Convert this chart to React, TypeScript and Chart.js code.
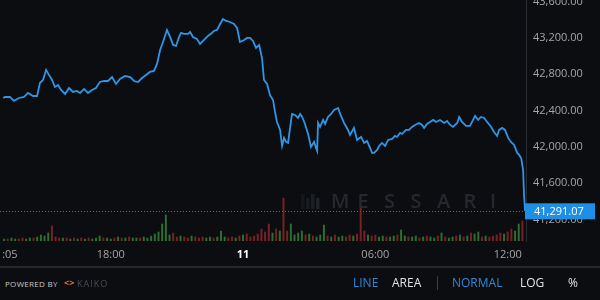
import React, { useEffect, useRef } from 'react';
import { Chart, registerables } from 'chart.js';

Chart.register(...registerables);

// ---- data (hours relative to 00:00 on the 11th) ----
const lineTimes = [
  -10.88, -10.79, -10.57, -10.39, -10.16, -9.93, -9.75, -9.52, -9.34, -9.21,
  -9.07, -8.93, -8.8, -8.66, -8.53, -8.39, -8.25, -8.07, -7.89, -7.71,
  -7.53, -7.39, -7.21, -7.03, -6.85, -6.67, -6.49, -6.3, -6.12, -5.94,
  -5.76, -5.58, -5.35, -5.12, -4.94, -4.76, -4.58, -4.4, -4.22, -4.04,
  -3.9, -3.76, -3.63, -3.54, -3.45, -3.31, -3.17, -3.04, -2.9, -2.81,
  -2.68, -2.49, -2.4, -2.27, -2.09, -1.95, -1.77, -1.59, -1.41, -1.32,
  -1.18, -1.04, -0.91, -0.77, -0.59, -0.41, -0.27, -0.14, 0.05, 0.18,
  0.32, 0.45, 0.59, 0.73, 0.86, 0.95, 1.09, 1.22, 1.36, 1.45,
  1.54, 1.68, 1.77, 1.86, 1.95, 2.04, 2.22, 2.36, 2.49, 2.59,
  2.68, 2.81, 2.95, 3.08, 3.22, 3.31, 3.36, 3.4, 3.49, 3.63,
  3.72, 3.85, 3.99, 4.13, 4.31, 4.44, 4.58, 4.76, 4.85, 5.03,
  5.17, 5.35, 5.49, 5.62, 5.76, 5.85, 5.94, 6.08, 6.17, 6.3,
  6.44, 6.58, 6.76, 6.89, 6.98, 7.12, 7.21, 7.39, 7.53, 7.66,
  7.8, 7.98, 8.12, 8.21, 8.34, 8.48, 8.62, 8.75, 8.93, 9.12,
  9.25, 9.39, 9.52, 9.71, 9.8, 9.93, 10.11, 10.29, 10.43, 10.52,
  10.66, 10.79, 10.93, 11.07, 11.25, 11.38, 11.52, 11.61, 11.75, 11.88,
  12.02, 12.15, 12.29, 12.43, 12.52, 12.61, 12.7, 12.74, 12.79,
];
const linePrices = [
  42539, 42550, 42550, 42506, 42539, 42550, 42594, 42561, 42561, 42704,
  42737, 42848, 42793, 42737, 42660, 42682, 42627, 42583, 42649, 42605,
  42616, 42594, 42638, 42594, 42627, 42649, 42715, 42726, 42726, 42770,
  42693, 42748, 42781, 42770, 42726, 42715, 42759, 42793, 42826, 42837,
  42914, 43068, 43156, 43222, 43288, 43211, 43123, 43112, 43211, 43255,
  43244, 43244, 43266, 43211, 43189, 43134, 43178, 43222, 43255, 43277,
  43288, 43354, 43409, 43387, 43376, 43354, 43310, 43156, 43178, 43200,
  43200, 43167, 43090, 43123, 42980, 42737, 42693, 42572, 42517, 42385,
  42275, 42187, 42011, 42099, 42055, 42044, 42363, 42352, 42319, 42363,
  42330, 42253, 42143, 42000, 42055, 41989, 41956, 42264, 42220, 42297,
  42253, 42330, 42363, 42407, 42429, 42341, 42264, 42187, 42132, 42209,
  42077, 42110, 42044, 42066, 41989, 41934, 41934, 41967, 42011, 42044,
  42011, 42077, 42088, 42121, 42110, 42154, 42143, 42187, 42187, 42220,
  42242, 42264, 42242, 42209, 42253, 42275, 42297, 42275, 42297, 42264,
  42286, 42242, 42220, 42264, 42330, 42275, 42231, 42231, 42297, 42341,
  42297, 42330, 42319, 42275, 42220, 42165, 42121, 42187, 42209, 42187,
  42099, 42055, 42022, 41934, 41912, 41878, 41746, 41471, 41291.07,
];
const lastPrice = 41291.07;

// 10-minute volume candles starting 13:10 on the 10th
const volStartHour = -10.833;
const volCandleHours = 1 / 6;
const volumes = [
  2, 2, 3, 2, 2, 3, 2, 3, 3, 4, 6, 5, 8, 15, 4, 3, 3, 3, 2, 3,
  2, 3, 2, 3, 2, 3, 5, 3, 3, 2, 3, 4, 3, 3, 4, 3, 3, 3, 4, 3,
  5, 7, 9, 17, 26, 6, 8, 4, 5, 4, 3, 5, 4, 3, 4, 3, 4, 3, 4, 10,
  4, 3, 4, 3, 5, 6, 7, 4, 5, 7, 12, 9, 17, 8, 12, 10, 43, 10, 17, 6,
  8, 10, 6, 7, 5, 4, 6, 16, 5, 4, 6, 4, 5, 4, 6, 5, 7, 33, 10, 6,
  5, 6, 4, 5, 4, 4, 5, 6, 11, 5, 4, 4, 5, 3, 4, 5, 4, 3, 5, 8,
  4, 3, 4, 5, 6, 4, 5, 8, 7, 9, 4, 5, 4, 5, 6, 8, 7, 9, 12, 10,
  17, 20,
];
const volumeUp = [
  1, 0, 1, 1, 0, 0, 1, 1, 0, 1, 1, 1, 1, 0, 0, 0, 1, 0, 1, 0,
  1, 0, 1, 0, 1, 1, 1, 0, 1, 1, 0, 1, 0, 1, 0, 1, 1, 0, 1, 1,
  1, 1, 1, 1, 1, 1, 0, 0, 1, 0, 0, 1, 0, 0, 0, 1, 1, 0, 1, 1,
  1, 0, 0, 1, 0, 1, 0, 0, 0, 0, 0, 0, 0, 1, 0, 1, 0, 0, 1, 1,
  1, 1, 0, 1, 0, 1, 1, 1, 0, 1, 0, 1, 1, 0, 0, 1, 0, 0, 0, 1,
  0, 0, 1, 1, 0, 1, 1, 0, 1, 1, 0, 1, 1, 0, 1, 0, 1, 1, 0, 1,
  0, 1, 1, 0, 1, 0, 1, 0, 1, 1, 0, 1, 0, 0, 0, 0, 1, 0, 0, 1,
  1, 0,
];

const priceTicks = [41200, 41600, 42000, 42400, 42800, 43200, 43600];
const timeTicks = [-10.57, -6, 0, 6, 12];
const timeTickLabels = [':05', '18:00', '11', '06:00', '12:00'];
const dayTick = 0;

const BG = '#0b0d11';
const BLUE = '#2f96e6';
const FONT = '"Open Sans", sans-serif';

const decorPlugin = {
  id: 'decor',
  beforeDatasetsDraw(chart: any) {
    const { ctx, chartArea, scales } = chart;
    ctx.save();
    // watermark
    ctx.fillStyle = 'rgba(70,74,82,0.45)';
    const lx = 301, ly = 194;
    for (let k = 0; k < 4; k++) {
      ctx.globalAlpha = 0.35 + k * 0.15;
      ctx.fillRect(lx + k * 5, ly + (k % 2 === 0 ? 0 : 4), 3.5, 15 - (k % 2 === 0 ? 0 : 4));
    }
    ctx.globalAlpha = 1;
    ctx.font = `600 20px ${FONT}`;
    ctx.textBaseline = 'middle';
    ctx.textAlign = 'left';
    const word = 'MESSARI';
    for (let i = 0; i < word.length; i++) {
      ctx.fillText(word[i], 331 + i * 26.5, 202);
    }
    // dotted last price line
    const y = Math.round(scales.y.getPixelForValue(lastPrice)) + 0.5;
    ctx.strokeStyle = 'rgba(150,150,150,0.7)';
    ctx.lineWidth = 1;
    ctx.setLineDash([1, 2]);
    ctx.beginPath();
    ctx.moveTo(chartArea.left, y);
    ctx.lineTo(chartArea.right - 2, y);
    ctx.stroke();
    ctx.restore();
  },
  afterDraw(chart: any) {
    const { ctx, scales } = chart;
    const y = scales.y.getPixelForValue(lastPrice);
    ctx.save();
    ctx.fillStyle = '#1f8fe5';
    ctx.fillRect(525, y - 8, 70, 16);
    ctx.fillStyle = '#ffffff';
    ctx.font = `11px ${FONT}`;
    ctx.textBaseline = 'middle';
    ctx.textAlign = 'left';
    ctx.fillText(
      lastPrice.toLocaleString('en-US', { minimumFractionDigits: 2, maximumFractionDigits: 2 }),
      534,
      y + 0.5
    );
    ctx.restore();
  },
};

export default function App() {
  const ref = useRef<HTMLCanvasElement>(null);
  useEffect(() => {
    document.body.style.margin = '0';
    const canvas = ref.current!;
    const linePoints = lineTimes.map((t, i) => ({ x: t, y: linePrices[i] }));
    const volPoints = volumes.map((v, i) => ({ x: volStartHour + i * volCandleHours, y: v }));
    const volColors = volumeUp.map((u) => (u ? 'rgba(55,135,55,0.8)' : 'rgba(150,40,40,0.8)'));
    const chart = new Chart(canvas, {
      type: 'line',
      data: {
        datasets: [
          {
            type: 'line',
            data: linePoints,
            borderColor: BLUE,
            borderWidth: 1.8,
            pointRadius: 0,
            tension: 0,
            yAxisID: 'y',
            order: 1,
          } as any,
          {
            type: 'bar',
            data: volPoints,
            backgroundColor: volColors,
            barThickness: 1.3,
            yAxisID: 'yv',
            order: 2,
          } as any,
        ],
      },
      options: {
        responsive: false,
        animation: false,
        devicePixelRatio: 1,
        layout: { padding: 0 },
        plugins: { legend: { display: false }, tooltip: { enabled: false } },
        scales: {
          x: {
            type: 'linear',
            offset: false,
            min: -11.02,
            max: 12.83,
            grid: { display: false, drawTicks: false, offset: false },
            border: { display: false },
            afterBuildTicks: (s: any) => {
              s.ticks = timeTicks.map((v) => ({ value: v }));
            },
            afterFit: (s: any) => {
              s.height = 27;
              s.paddingLeft = 0;
              s.paddingRight = 0;
            },
            ticks: {
              autoSkip: false,
              maxRotation: 0,
              padding: 7,
              callback: (v: any) => {
                const i = timeTicks.indexOf(Number(v));
                return i >= 0 ? timeTickLabels[i] : '';
              },
              color: (c: any) => (c.tick && c.tick.value === dayTick ? '#ffffff' : '#a5a5a5'),
              font: (c: any) => ({
                family: FONT,
                size: 11,
                weight: c.tick && c.tick.value === dayTick ? 'bold' : 'normal',
              }),
            },
          } as any,
          y: {
            type: 'linear',
            position: 'right',
            min: 40964,
            max: 43618,
            grid: { display: false, drawTicks: false },
            border: { display: true, color: '#2a2d33' },
            afterBuildTicks: (s: any) => {
              s.ticks = priceTicks.map((v) => ({ value: v }));
            },
            afterFit: (s: any) => {
              s.width = 74;
              s.paddingTop = 0;
              s.paddingBottom = 0;
            },
            ticks: {
              padding: 7,
              color: '#a5a5a5',
              font: { family: FONT, size: 11 },
              callback: (v: any) =>
                Number(v).toLocaleString('en-US', { minimumFractionDigits: 2, maximumFractionDigits: 2 }),
            },
          } as any,
          yv: { type: 'linear', display: false, min: 0, max: 241 } as any,
        },
      },
      plugins: [decorPlugin],
    });
    return () => chart.destroy();
  }, []);

  const btn = (text: string, left: number, color: string) => (
    <span
      style={{
        position: 'absolute',
        left,
        top: 275,
        fontSize: 12,
        lineHeight: '16px',
        color,
        fontFamily: FONT,
      }}
    >
      {text}
    </span>
  );

  return (
    <div
      style={{
        position: 'absolute',
        left: 0,
        top: 0,
        width: 600,
        height: 300,
        background: BG,
        overflow: 'hidden',
        fontFamily: FONT,
      }}
    >
      <canvas ref={ref} width={600} height={268} style={{ position: 'absolute', left: 0, top: 0, width: 600, height: 268 }} />
      <div style={{ position: 'absolute', left: 0, top: 266, width: 600, height: 2, background: '#24272c' }} />
      <span
        style={{
          position: 'absolute',
          left: 5,
          top: 278,
          fontSize: 8,
          lineHeight: '11px',
          color: '#c9c9c9',
          letterSpacing: 0.3,
        }}
      >
        POWERED BY
      </span>
      <span
        style={{
          position: 'absolute',
          left: 64,
          top: 277,
          fontSize: 9,
          lineHeight: '12px',
          color: '#e07a2a',
          fontWeight: 'bold',
        }}
      >
        {'<>'}
      </span>
      <span
        style={{
          position: 'absolute',
          left: 77,
          top: 278,
          fontSize: 9,
          lineHeight: '11px',
          color: '#4a4d52',
          letterSpacing: 1,
        }}
      >
        KAIKO
      </span>
      {btn('LINE', 353, '#2f87d3')}
      {btn('AREA', 392, '#e2e2e2')}
      <span style={{ position: 'absolute', left: 437, top: 276, width: 1, height: 14, background: '#3a3d42' }} />
      {btn('NORMAL', 452, '#2f87d3')}
      {btn('LOG', 520, '#e2e2e2')}
      {btn('%', 568, '#e2e2e2')}
    </div>
  );
}
